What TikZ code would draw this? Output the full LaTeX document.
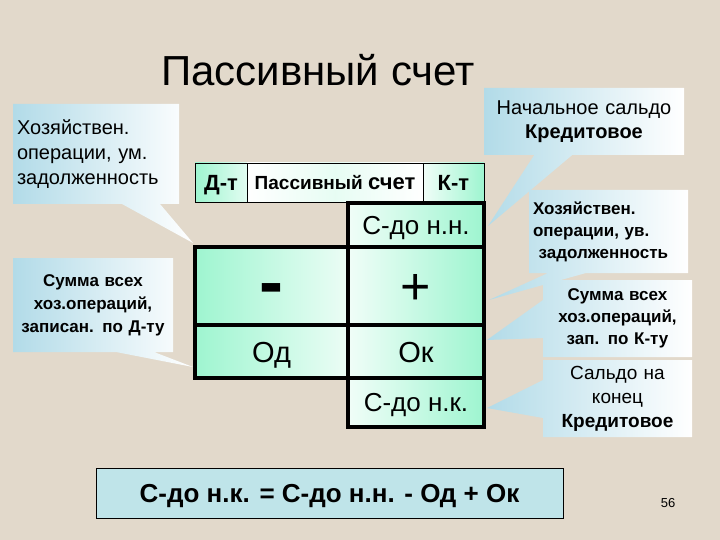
\documentclass[tikz,border=0pt]{standalone}
\usepackage{fontspec}
\setmainfont{Liberation Sans}
\usetikzlibrary{shapes.callouts}
\definecolor{bg}{RGB}{226,217,203}
\definecolor{mint}{RGB}{158,245,208}
\definecolor{cblue}{RGB}{178,219,232}
\definecolor{fblue}{RGB}{191,228,233}
\newcommand{\fs}[2]{\fontsize{#1}{#2}\selectfont}
\tikzset{
  cell/.style={draw=black, line width=4.5pt, inner sep=0pt, outer sep=0pt},
  lcell/.style={cell, left color=mint, right color=white!80!mint},
  rcell/.style={cell, left color=white!85!mint, right color=mint},
  hcell/.style={draw=black, line width=0.8pt, inner sep=0pt, outer sep=0pt, minimum height=39pt, text depth=0pt},
  callbox/.style={rectangle callout, left color=cblue, right color=white, inner sep=4pt, outer sep=0pt, callout pointer width=38pt},
}
\begin{document}
\begin{tikzpicture}[x=1pt,y=-1pt]
\fill[bg] (0,0) rectangle (720,540);
\useasboundingbox (0,0) rectangle (720,540);

% title
\node[font=\fs{42}{48}] (title) at (318,70) {Пассивный счет};

% pointer tips
\coordinate (tipA) at (193,243);
\coordinate (tipB) at (193,367);
\coordinate (tipC) at (488,226);
\coordinate (tipD) at (489,300);
\coordinate (tipE) at (487,340);
\coordinate (tipF) at (487,408);

% callouts
\node[callbox, callout absolute pointer={(tipA)}, minimum width=164pt, minimum height=100pt, text width=158pt, align=left, font=\fs{20}{25}] (cA) at (96,154)
  {Хозяйствен.\\операции, ум.\\задолженность};
\node[callbox, callout absolute pointer={(tipB)}, minimum width=158pt, minimum height=94pt, text width=152pt, align=center, font=\fs{17}{23}\bfseries] (cB) at (93,305)
  {Сумма всех\\хоз.операций,\\записан. по Д-ту};
\node[callbox, callout absolute pointer={(tipC)}, minimum width=198pt, minimum height=67pt, text width=192pt, align=center, font=\fs{20}{24}] (cC) at (584,121.5)
  {Начальное сальдо\\\textbf{Кредитовое}};
\node[callbox, callout absolute pointer={(tipD)}, minimum width=157pt, minimum height=83pt, text width=151pt, align=left, font=\fs{17}{22}\bfseries] (cD) at (608.5,231.5)
  {Хозяйствен.\\операции, ув.\\\ задолженность};
\node[callbox, callout absolute pointer={(tipE)}, minimum width=147pt, minimum height=77pt, text width=141pt, align=center, font=\fs{17}{22}\bfseries] (cE) at (617.5,318.5)
  {Сумма всех\\хоз.операций,\\зап. по К-ту};
\node[callbox, callout absolute pointer={(tipF)}, minimum width=147pt, minimum height=77pt, text width=141pt, align=center, font=\fs{19}{24}] (cF) at (617.5,398.5)
  {Сальдо на\\конец\\\textbf{Кредитовое}};

% header
\node[hcell, minimum width=52pt, left color=mint, right color=white!70!mint, text height=15.8pt, font=\fs{22}{24}\bfseries] (hd) at (221,182.5) {Д-т};
\node[hcell, minimum width=176pt, left color=white, right color=white, middle color=white!75!mint, text height=15pt, font=\bfseries] (hp) at (335,182.5) {\fs{19}{22}Пассивный \fs{22}{24}счет};
\node[hcell, minimum width=61pt, left color=white!85!mint, right color=mint, text height=15.8pt, font=\fs{22}{24}\bfseries] (hk) at (453.5,182.5) {К-т};

% table
\node[rcell, minimum width=136pt, minimum height=44pt, text height=18.5pt, text depth=0pt, font=\fs{26}{28}] (snn) at (416,225) {С-до н.н.};
\node[lcell, minimum width=153pt, minimum height=78pt] (minus) at (271.5,286) {};
\node[font=\fs{72}{72}\bfseries] (minustext) at (271.5,286) [yshift=-9pt] {-};
\node[rcell, minimum width=136pt, minimum height=78pt, font=\fs{52}{56}] (plus) at (416,286) [label={[font=\fs{52}{56}, yshift=-3pt]center:+}] {};
\node[lcell, minimum width=153pt, minimum height=53pt, text height=21pt, text depth=0pt, font=\fs{29}{32}] (od) at (271.5,351.5) {Од};
\node[rcell, minimum width=136pt, minimum height=53pt, text height=21pt, text depth=0pt, font=\fs{29}{32}] (ok) at (416,351.5) {Ок};
\node[rcell, minimum width=136pt, minimum height=49pt, text height=18.5pt, text depth=0pt, font=\fs{26}{28}] (snk) at (416,402.5) {С-до н.к.};

% formula
\node[draw=black, line width=0.8pt, fill=fblue, minimum width=467pt, minimum height=50pt, inner sep=0pt, text height=18.6pt, text depth=0pt, font=\fs{26}{28}\bfseries] (formula) at (329.5,493)
  {С-до н.к. = С-до н.н. - Од + Ок};

\node[font=\fs{13}{15}] (page) at (668,503) {56};
\end{tikzpicture}
\end{document}
